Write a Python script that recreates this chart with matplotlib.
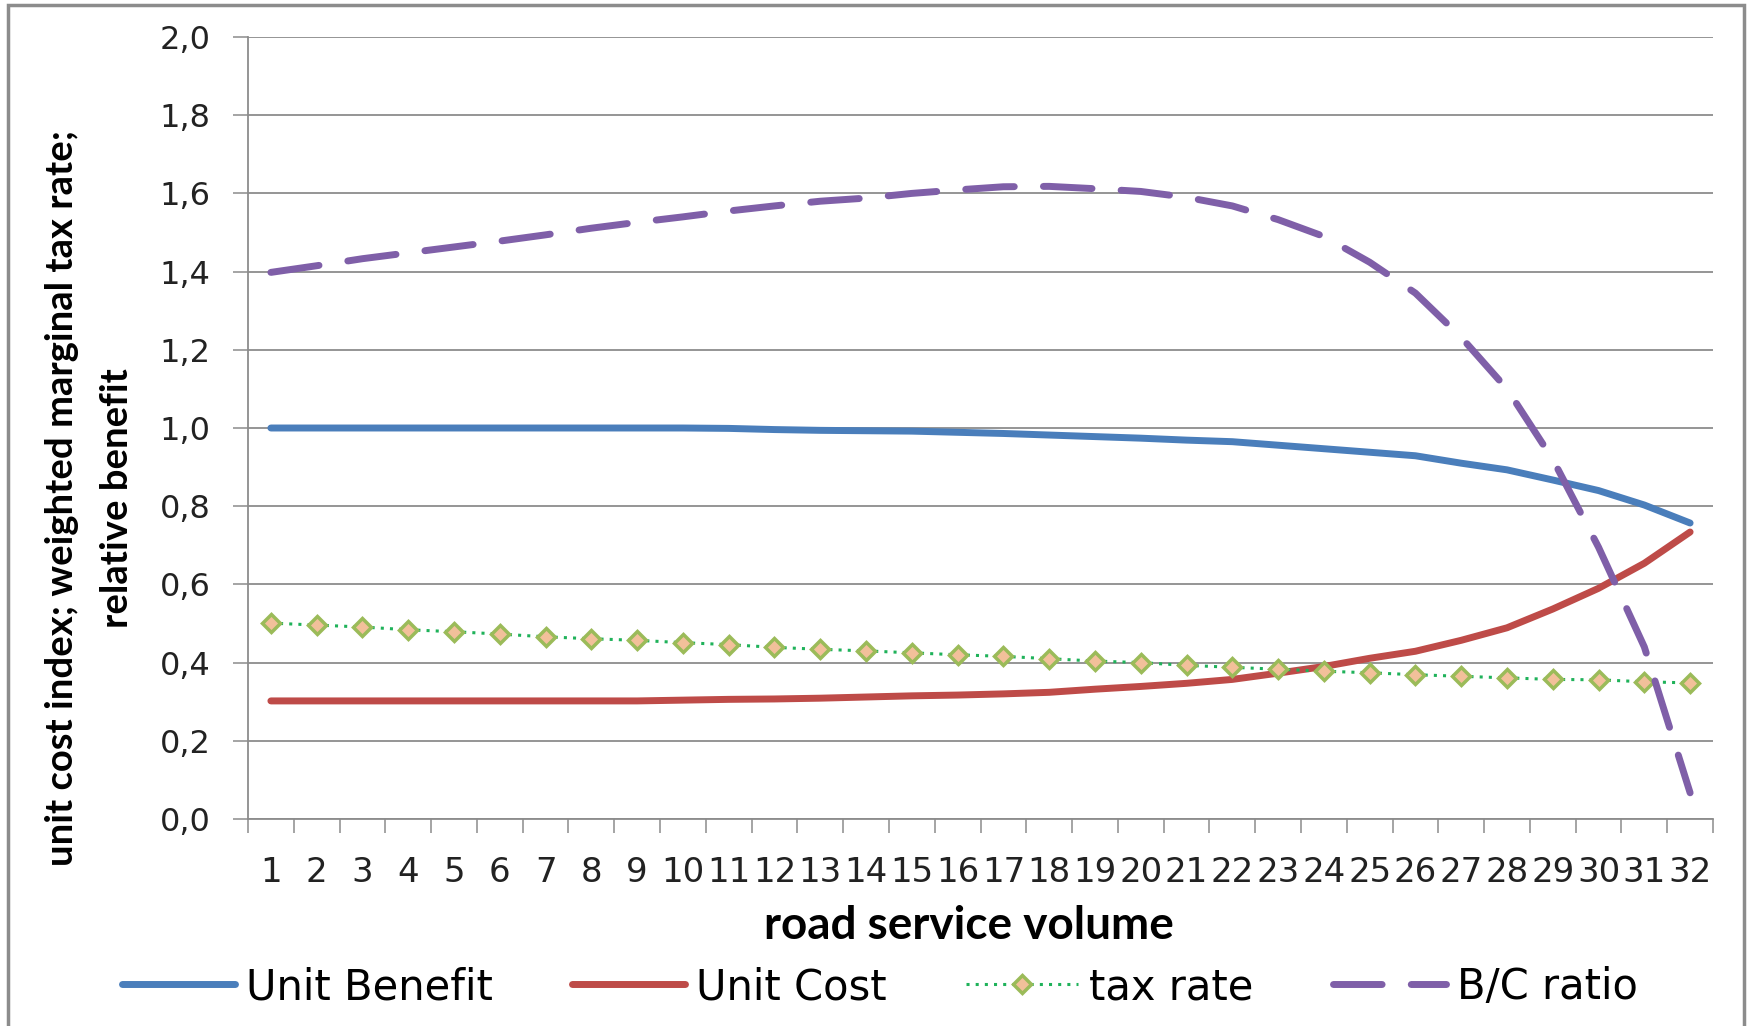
import matplotlib
matplotlib.use("Agg")
import matplotlib.pyplot as plt
from matplotlib.patches import Rectangle
from matplotlib.ticker import FixedLocator, FuncFormatter

# ---------------- data ----------------
categories = [str(i) for i in range(1, 33)]

unit_benefit = [1.000, 1.000, 1.000, 1.000, 1.000, 1.000, 1.000, 1.000, 1.000, 1.000,
                0.999, 0.996, 0.994, 0.993, 0.992, 0.989, 0.986, 0.982, 0.978, 0.974,
                0.969, 0.965, 0.956, 0.947, 0.938, 0.929, 0.910, 0.893, 0.867, 0.840,
                0.803, 0.757]

unit_cost = [0.302, 0.302, 0.302, 0.302, 0.302, 0.302, 0.302, 0.302, 0.302, 0.304,
             0.306, 0.307, 0.309, 0.312, 0.315, 0.317, 0.320, 0.324, 0.332, 0.339,
             0.347, 0.357, 0.373, 0.390, 0.411, 0.429, 0.457, 0.489, 0.537, 0.590,
             0.654, 0.734]

tax_rate = [0.501, 0.496, 0.491, 0.484, 0.479, 0.473, 0.466, 0.461, 0.457, 0.451,
            0.446, 0.439, 0.434, 0.430, 0.425, 0.420, 0.416, 0.410, 0.404, 0.400,
            0.393, 0.388, 0.383, 0.378, 0.374, 0.369, 0.365, 0.361, 0.357, 0.356,
            0.351, 0.348]

bc_ratio = [1.398, 1.415, 1.433, 1.448, 1.463, 1.478, 1.494, 1.511, 1.526, 1.540,
            1.555, 1.568, 1.580, 1.588, 1.600, 1.609, 1.617, 1.618, 1.612, 1.605,
            1.590, 1.568, 1.533, 1.490, 1.424, 1.345, 1.232, 1.100, 0.920, 0.695,
            0.440, 0.067]

series_names = ["Unit Benefit", "Unit Cost", "tax rate", "B/C ratio"]
y_ticks = [0.0, 0.2, 0.4, 0.6, 0.8, 1.0, 1.2, 1.4, 1.6, 1.8, 2.0]
x_label = "road service volume"
y_label = "unit cost index; weighted marginal tax rate;\nrelative benefit"

# ---------------- figure ----------------
W, H = 1750, 1026
fig = plt.figure(figsize=(W / 100, H / 100), dpi=100)
ax = fig.add_axes([248 / W, 1 - 819 / H, (1713 - 248) / W, (819 - 37) / H])

x = list(range(1, len(categories) + 1))
grey = "#8C8C8C"

ax.plot(x, unit_benefit, color="#4A7EBB", lw=5, solid_capstyle="round",
        label=series_names[0], zorder=3)
ax.plot(x, unit_cost, color="#BE4B48", lw=5, solid_capstyle="round",
        label=series_names[1], zorder=3)
ax.plot(x, tax_rate, color="#1FB25A", lw=2.2, linestyle=(0, (1, 2.0)),
        marker="D", markersize=9.5, markerfacecolor="#F2C09A",
        markeredgecolor="#9BBB59", markeredgewidth=2.5,
        label=series_names[2], zorder=4)
ax.plot(x, bc_ratio, color="#7F5FA8", lw=5, linestyle=(0, (7, 4.2)),
        dash_capstyle="round", label=series_names[3], zorder=5)

ax.set_xlim(0.5, len(categories) + 0.5)
ax.set_ylim(0, 2.0)

# y axis
ax.yaxis.set_major_locator(FixedLocator(y_ticks))
ax.yaxis.set_major_formatter(FuncFormatter(lambda v, p: f"{v:.1f}".replace(".", ",")))
ax.tick_params(axis="y", which="major", direction="out", length=11, width=1.1,
               color=grey, labelsize=23, pad=16, labelcolor="#222222")
ax.yaxis.grid(True, color=grey, lw=1.3)
ax.set_axisbelow(True)

# x axis: ticks at category boundaries, labels at centres
ax.xaxis.set_major_locator(FixedLocator([i + 0.5 for i in range(0, len(categories) + 1)]))
ax.xaxis.set_major_formatter(FuncFormatter(lambda v, p: ""))
ax.xaxis.set_minor_locator(FixedLocator(x))
ax.xaxis.set_minor_formatter(FuncFormatter(lambda v, p: categories[int(round(v)) - 1]))
ax.tick_params(axis="x", which="major", direction="out", length=10, width=1.1, color=grey)
ax.tick_params(axis="x", which="minor", length=0, labelsize=24.5, pad=27,
               labelcolor="#222222")

for s in ["top", "right"]:
    ax.spines[s].set_visible(False)
for s in ["left", "bottom"]:
    ax.spines[s].set_color(grey)
    ax.spines[s].set_linewidth(1.3)

# axis titles
lab_font = ["Lato", "DejaVu Sans"]
fig.text(969 / W, 1 - 926 / H, x_label, ha="center", va="center",
         fontsize=33, fontweight="bold", family=lab_font)
fig.text(90 / W, 1 - 498 / H, y_label, ha="center", va="center", rotation=90,
         fontsize=27.5, fontweight="bold", family=lab_font, linespacing=1.75,
         multialignment="center")

# legend
fig.legend(loc="center", bbox_to_anchor=(880 / W, 1 - 987 / H), ncol=4,
           frameon=False, fontsize=30, handlelength=2.7, handletextpad=0.27,
           columnspacing=1.9)

# outer chart border
fig.patches.append(Rectangle((8 / W, -0.02), (1744 - 8) / W, 1.02 - 5 / H,
                             transform=fig.transFigure, fill=False,
                             edgecolor=grey, lw=2.5))

fig.savefig("out.png", dpi=100)
